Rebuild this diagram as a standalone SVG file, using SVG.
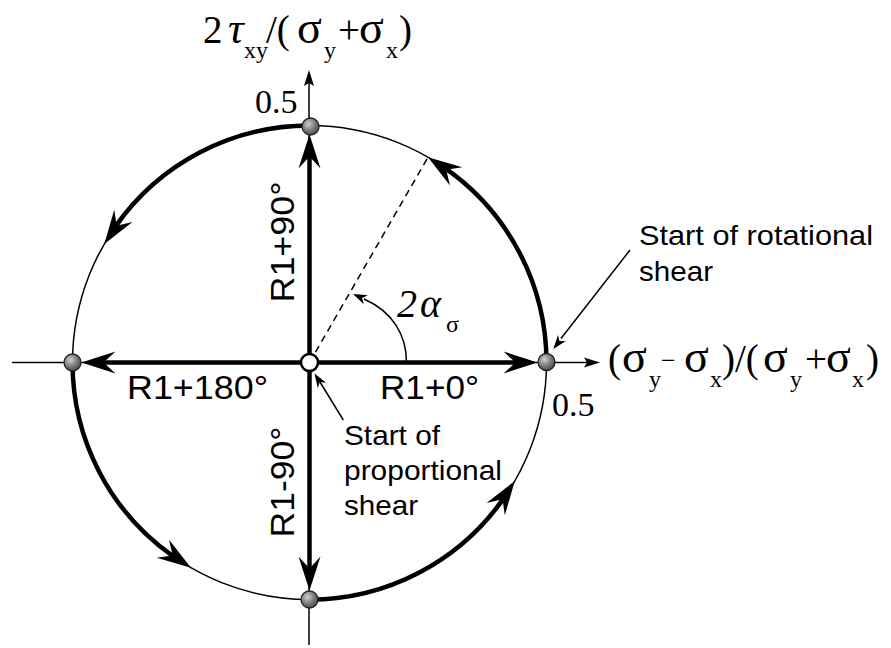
<svg xmlns="http://www.w3.org/2000/svg" xmlns:xlink="http://www.w3.org/1999/xlink" width="891" height="648" viewBox="0 0 891 648">
<style>
.thin{fill:none;stroke:#000;stroke-width:1.5}
.thick{fill:none;stroke:#000;stroke-width:4.5}
.dash{fill:none;stroke:#000;stroke-width:1.5;stroke-dasharray:7 5}
.node{fill:url(#g);stroke:#222;stroke-width:1.3}
.sans{font-family:"Liberation Sans",Arial,sans-serif;fill:#000}
.lbl{font-size:33px}
.note{font-size:28px}
.math{font-family:"Liberation Serif","Times New Roman",serif;fill:#000;font-size:39px}
.it{font-style:italic}
.sub{font-size:24px}
.gr{font-size:46px}
</style>
<defs>
<radialGradient id="g" cx="38%" cy="35%" r="65%">
<stop offset="0" stop-color="#d0d0d0"/>
<stop offset="0.6" stop-color="#7a7a7a"/>
<stop offset="1" stop-color="#505050"/>
</radialGradient>
<path id="ah" d="M0,0 L-34,-11 L-22,0 L-34,11 Z" fill="#000"/>
<path id="sh" d="M0,0 L-14,-5 L-10,0 L-14,5 Z" fill="#000"/>
<path id="ax" d="M0,0 L-16,-5 L-13,0 L-16,5 Z" fill="#000"/>
</defs>

<g id="connectors">
<line class="thin" x1="12" y1="362.5" x2="588" y2="362.5"/>
<use xlink:href="#ax" transform="translate(600,362.5)"/>
<line class="thin" x1="309" y1="645" x2="309" y2="82"/>
<use xlink:href="#ax" transform="translate(309,70) rotate(-90)"/>
<circle class="thin" cx="309.5" cy="362.5" r="237"/>
<path class="thick" d="M546.5,362.5 A237,237 0 0 0 445.4,168.4"/>
<use xlink:href="#ah" transform="translate(428,157.3) rotate(214.1)"/>
<path class="thick" d="M309.5,125.5 A237,237 0 0 0 115.4,226.6"/>
<use xlink:href="#ah" transform="translate(104.3,244) rotate(124.1)"/>
<path class="thick" d="M72.5,362.5 A237,237 0 0 0 173.6,556.6"/>
<use xlink:href="#ah" transform="translate(191,567.8) rotate(34.1)"/>
<path class="thick" d="M309.5,599.5 A237,237 0 0 0 503.6,498.4"/>
<use xlink:href="#ah" transform="translate(514.8,481) rotate(-55.9)"/>
<line class="thick" x1="104" y1="362.5" x2="515" y2="362.5"/>
<use xlink:href="#ah" transform="translate(537.5,362.5)"/>
<use xlink:href="#ah" transform="translate(81.5,362.5) rotate(180)"/>
<line class="thick" x1="309.5" y1="157" x2="309.5" y2="568"/>
<use xlink:href="#ah" transform="translate(309.5,134.5) rotate(-90)"/>
<use xlink:href="#ah" transform="translate(309.5,590.5) rotate(90)"/>
<line class="dash" x1="309.5" y1="362.5" x2="428" y2="157.3"/>
<path class="thin" d="M406.5,362.5 C406.5,335 393,312 364,299"/>
<use xlink:href="#sh" transform="translate(353,294) rotate(204)"/>
<line class="thin" x1="630" y1="250" x2="561" y2="338.5"/>
<use xlink:href="#sh" transform="translate(553.3,349) rotate(127.9)"/>
<line class="thin" x1="343.3" y1="420" x2="320" y2="382"/>
<use xlink:href="#sh" transform="translate(314.5,373.5) rotate(-122.2)"/>
</g>

<g id="node-top"><circle class="node" cx="310.5" cy="126.5" r="8.5"/></g>
<g id="node-right"><circle class="node" cx="546.5" cy="362" r="8.5"/></g>
<g id="node-left"><circle class="node" cx="72.5" cy="362.5" r="8.5"/></g>
<g id="node-bottom"><circle class="node" cx="309.5" cy="599.5" r="8.5"/></g>
<g id="node-center"><circle cx="309.5" cy="362.5" r="8.5" fill="#fff" stroke="#000" stroke-width="2.5"/></g>

<g id="labels">
<text class="sans lbl" x="380" y="399" textLength="99" lengthAdjust="spacingAndGlyphs">R1+0°</text>
<text class="sans lbl" x="127" y="399" textLength="141" lengthAdjust="spacingAndGlyphs">R1+180°</text>
<text class="sans lbl" transform="translate(294,242) rotate(-90)" x="-60.5" y="0" textLength="121" lengthAdjust="spacingAndGlyphs">R1+90°</text>
<text class="sans lbl" transform="translate(294,482) rotate(-90)" x="-55.5" y="0" textLength="111" lengthAdjust="spacingAndGlyphs">R1-90°</text>

<text class="sans note" x="639" y="245" textLength="234" lengthAdjust="spacingAndGlyphs">Start of rotational</text>
<text class="sans note" x="639" y="281" textLength="74" lengthAdjust="spacingAndGlyphs">shear</text>
<text class="sans note" x="344" y="445" textLength="96" lengthAdjust="spacingAndGlyphs">Start of</text>
<text class="sans note" x="344" y="480" textLength="158" lengthAdjust="spacingAndGlyphs">proportional</text>
<text class="sans note" x="344" y="515" textLength="74" lengthAdjust="spacingAndGlyphs">shear</text>

<text class="math" style="font-size:34px" x="255" y="113">0.5</text>
<text class="math" style="font-size:34px" x="552" y="416">0.5</text>

<text class="math"><tspan x="203" y="43">2</tspan><tspan class="it" style="font-size:44px" x="228" y="43">τ</tspan><tspan class="sub" x="244" y="58">xy</tspan><tspan x="266" y="43">/(</tspan><tspan class="gr" x="297" y="43">σ</tspan><tspan class="sub" x="324" y="58">y</tspan><tspan x="338" y="43">+</tspan><tspan class="gr" x="359" y="43">σ</tspan><tspan class="sub" x="386" y="58">x</tspan><tspan x="399" y="43">)</tspan></text>

<text class="math"><tspan x="608" y="372">(</tspan><tspan class="gr" x="622" y="372">σ</tspan><tspan class="sub" x="649" y="387">y</tspan><tspan style="font-size:26px" x="661" y="369">−</tspan><tspan class="gr" x="684" y="372">σ</tspan><tspan class="sub" x="710" y="387">x</tspan><tspan x="722" y="372">)/(</tspan><tspan class="gr" x="763" y="372">σ</tspan><tspan class="sub" x="790" y="387">y</tspan><tspan x="805" y="372">+</tspan><tspan class="gr" x="826" y="372">σ</tspan><tspan class="sub" x="852" y="387">x</tspan><tspan x="866" y="372">)</tspan></text>

<text class="math" style="font-size:40px"><tspan class="it" x="397" y="317">2</tspan><tspan class="it" x="420" y="317">α</tspan><tspan class="sub" x="446" y="332">σ</tspan></text>
</g>
</svg>
